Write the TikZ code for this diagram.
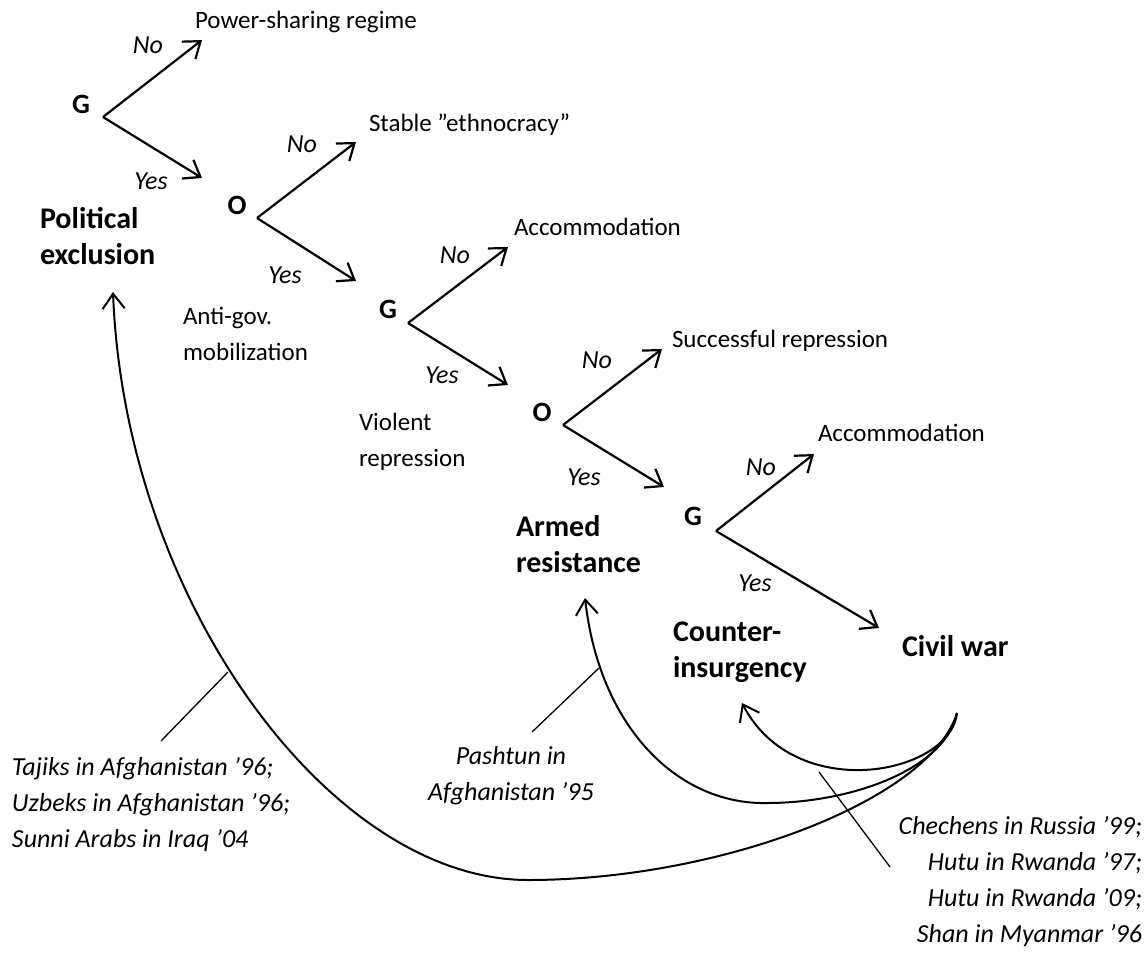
\documentclass[tikz,border=0pt]{standalone}
\usepackage{fontspec}
\setmainfont{Carlito}
\usetikzlibrary{arrows.meta}
\begin{document}
\begin{tikzpicture}[x=1pt,y=-1pt,
  every node/.style={inner sep=0pt,outer sep=0pt},
  reg/.style={font=\fontsize{25}{36}\selectfont,anchor=base west,align=left},
  bld/.style={font=\fontsize{30}{36}\selectfont\bfseries,anchor=base west,align=left},
  ita/.style={font=\fontsize{26}{36}\selectfont\itshape,anchor=base},
  dec/.style={font=\fontsize{28}{30}\selectfont\bfseries,anchor=center},
  tarrow/.style={line width=2.2pt,-{Straight Barb[length=15pt,width=22pt]}},
  loop/.style={line width=2pt,-{Straight Barb[length=15pt,width=22pt]}},
  leader/.style={line width=1.3pt}]
\useasboundingbox (0,0) rectangle (1148,956);

% decision letters
\node[dec] (G1) at (81,104) {G};
\node[dec] (O1) at (237,205) {O};
\node[dec] (G2) at (388,309) {G};
\node[dec] (O2) at (542,412) {O};
\node[dec] (G3) at (693,516) {G};

% branch points and tips
\coordinate (v1) at (103,117); \coordinate (n1) at (202,40);  \coordinate (y1) at (202,178);
\coordinate (v2) at (257,218); \coordinate (n2) at (356,142); \coordinate (y2) at (356,281);
\coordinate (v3) at (408,323); \coordinate (n3) at (508,247); \coordinate (y3) at (508,385);
\coordinate (v4) at (563,425); \coordinate (n4) at (662,349); \coordinate (y4) at (664,487);
\coordinate (v5) at (716,531); \coordinate (n5) at (814,454); \coordinate (y5) at (879,628);

\draw[tarrow] (v1) -- (n1); \draw[tarrow] (v1) -- (y1);
\draw[tarrow] (v2) -- (n2); \draw[tarrow] (v2) -- (y2);
\draw[tarrow] (v3) -- (n3); \draw[tarrow] (v3) -- (y3);
\draw[tarrow] (v4) -- (n4); \draw[tarrow] (v4) -- (y4);
\draw[tarrow] (v5) -- (n5); \draw[tarrow] (v5) -- (y5);

% branch labels
\node[ita] (no1) at (148,53) {No};   \node[ita] (yes1) at (151,189) {Yes};
\node[ita] (no2) at (302,152) {No};  \node[ita] (yes2) at (285,283) {Yes};
\node[ita] (no3) at (455,263) {No};  \node[ita] (yes3) at (442,383) {Yes};
\node[ita] (no4) at (597,368) {No};  \node[ita] (yes4) at (584,485) {Yes};
\node[ita] (no5) at (761,475) {No};  \node[ita] (yes5) at (755,591) {Yes};

% outcomes
\node[reg] (out1) at (195,28) {Power-sharing regime};
\node[reg] (out2) at (369,131) {Stable ”ethnocracy”};
\node[reg] (out3) at (514,235) {Accommodation};
\node[reg] (out4) at (672,347) {Successful repression};
\node[reg] (out5) at (818,441) {Accommodation};

% stages (base anchor = baseline of last line)
\node[bld] (excl) at (40,264) {Political\\exclusion};
\node[reg] (mob) at (183,360) {Anti-gov.\\mobilization};
\node[reg] (rep) at (359,466) {Violent\\repression};
\node[bld] (armed) at (516,572) {Armed\\resistance};
\node[bld] (counter) at (673,677) {Counter-\\insurgency};
\node[bld] (civil) at (902,656) {Civil war};

% feedback loops
\coordinate (S) at (957,713);
\coordinate (tA) at (742,703);
\coordinate (tB) at (585,598);
\coordinate (tC) at (113,292);
\draw[loop] (S) .. controls (950,775) and (795,805) .. (tA);
\draw[loop] (S) .. controls (945,770) and (850,803) .. (767,803)
               .. controls (680,805) and (600,730) .. (tB);
\draw[loop] (S) .. controls (930,800) and (720,880) .. (528,880)
               .. controls (330,880) and (125,600) .. (tC);

% case labels
\node[ita,anchor=base west,align=left] (casesC) at (12,847)
  {Tajiks in Afghanistan ’96;\\Uzbeks in Afghanistan ’96;\\Sunni Arabs in Iraq ’04};
\node[ita,anchor=base,align=center] (casesB) at (511,800)
  {Pashtun in\\Afghanistan ’95};
\node[ita,anchor=base east,align=right] (casesA) at (1142,942)
  {Chechens in Russia ’99;\\Hutu in Rwanda ’97;\\Hutu in Rwanda ’09;\\Shan in Myanmar ’96};

% leaders
\coordinate (lC1) at (228,672); \coordinate (lC2) at (161,741);
\coordinate (lB1) at (599,668); \coordinate (lB2) at (532,732);
\coordinate (lA1) at (819,772); \coordinate (lA2) at (890,867);
\draw[leader] (lC1) -- (lC2);
\draw[leader] (lB1) -- (lB2);
\draw[leader] (lA1) -- (lA2);
\end{tikzpicture}
\end{document}
